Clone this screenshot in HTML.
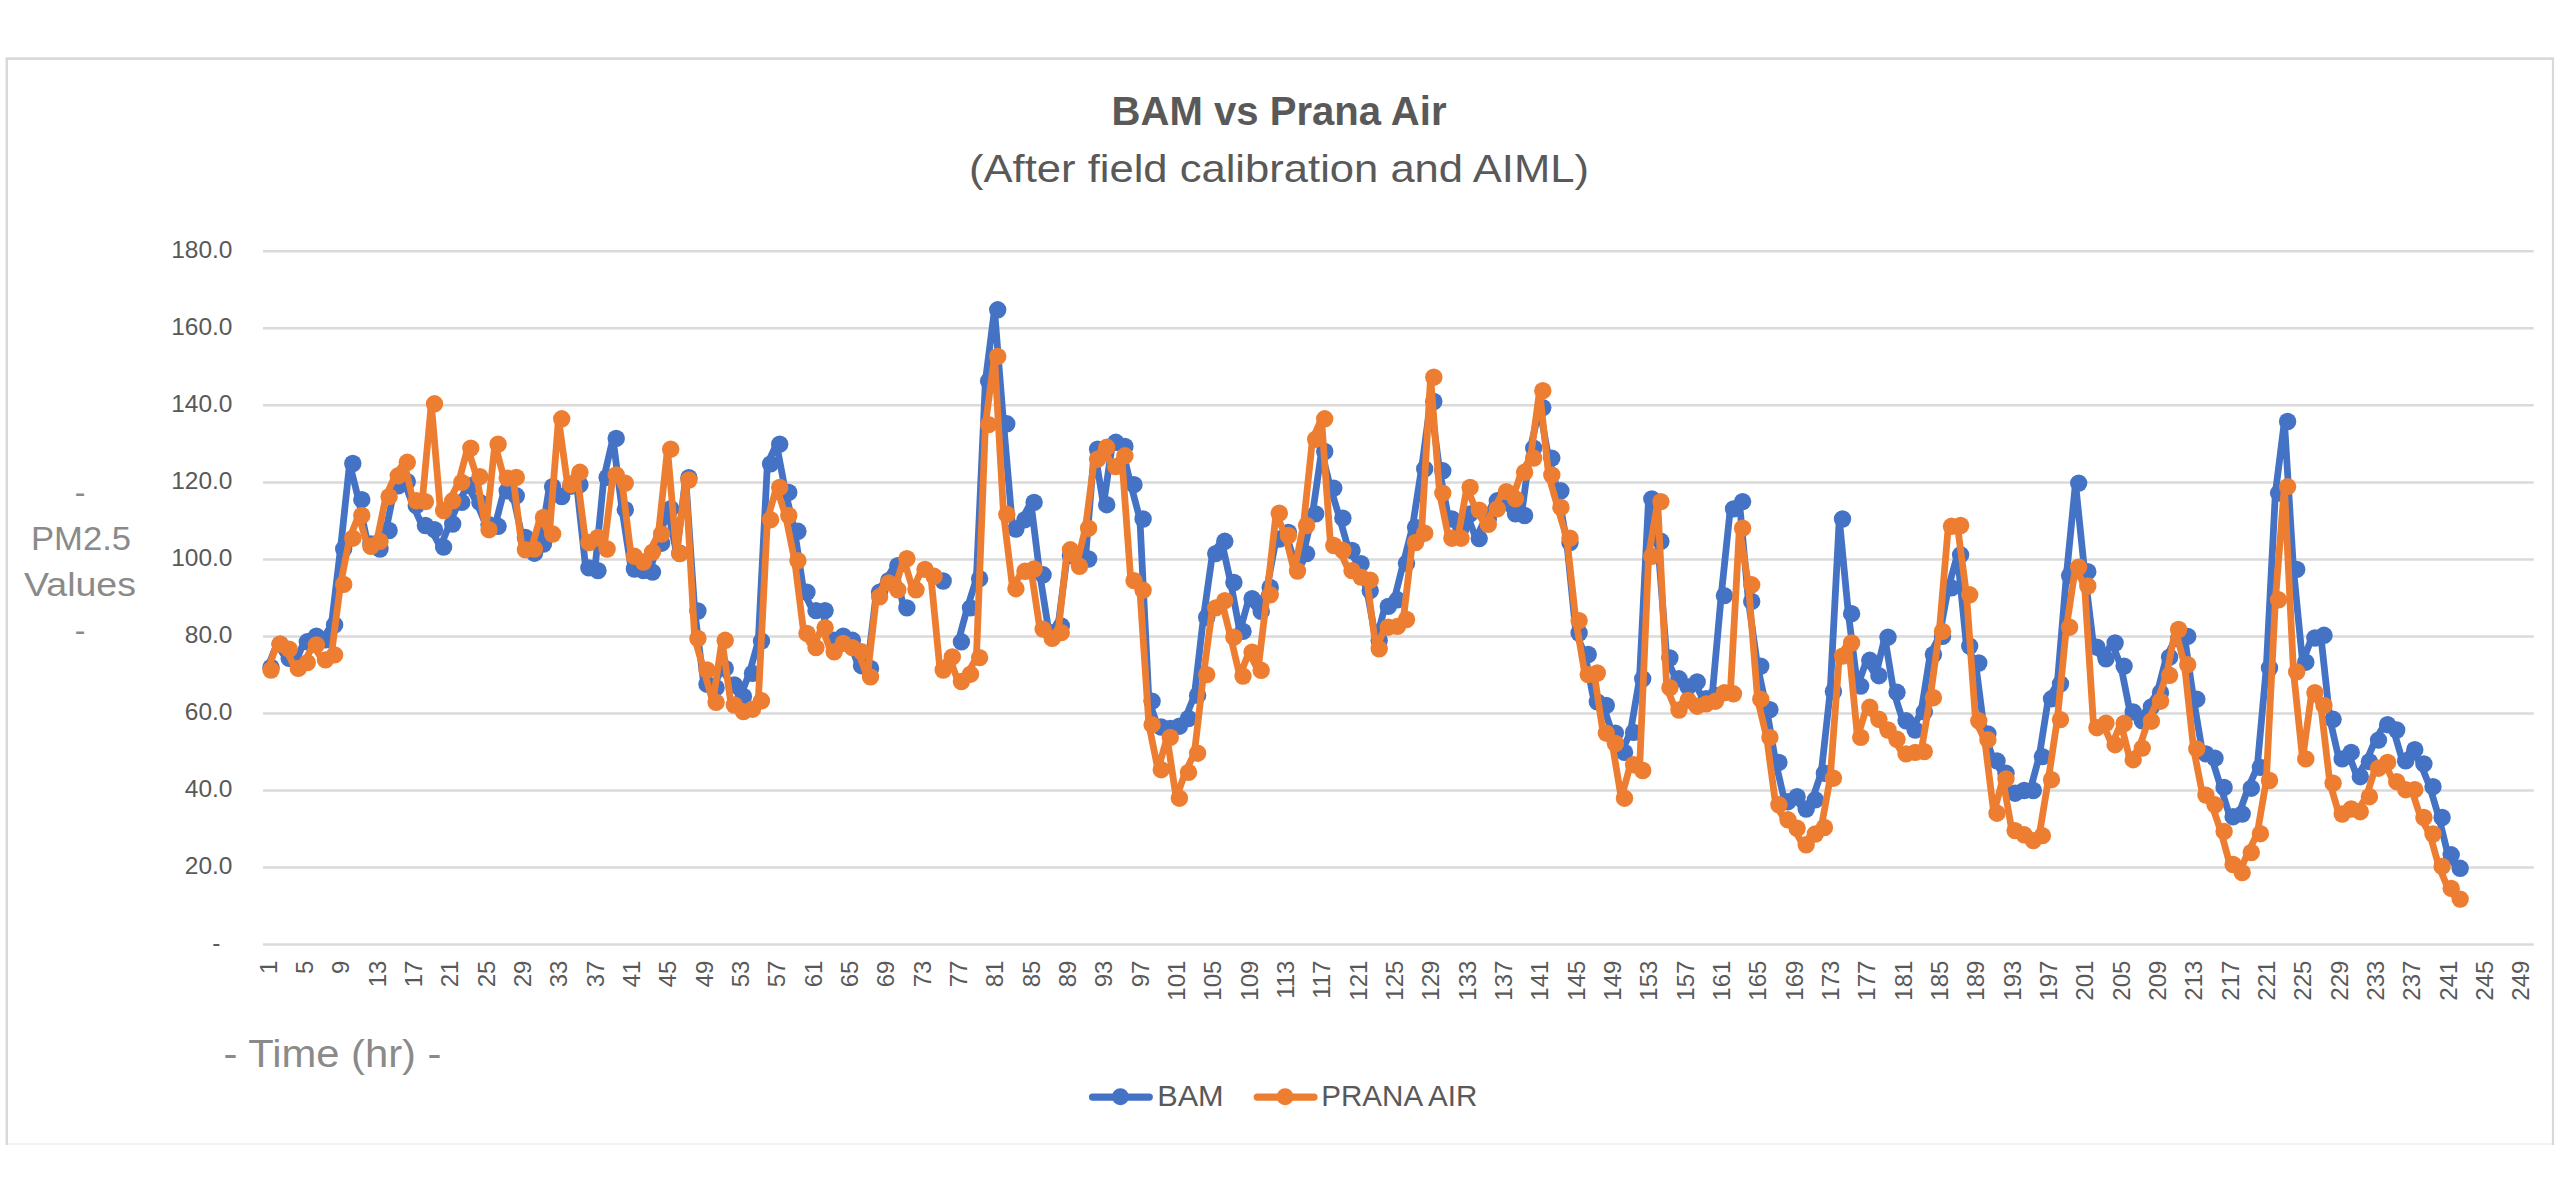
<!DOCTYPE html>
<html lang="en"><head><meta charset="utf-8"><title>BAM vs Prana Air</title>
<style>
html,body{margin:0;padding:0;background:#fff;}
body{width:2560px;height:1200px;overflow:hidden;}
svg{display:block;}
text{font-family:"Liberation Sans",sans-serif;}
.t{fill:#595959;}
.a{fill:#8a8a8a;}
</style></head><body>
<svg width="2560" height="1200" viewBox="0 0 2560 1200">
<rect x="0" y="0" width="2560" height="1200" fill="#fff"/>
<g fill="none" stroke="#d9d9d9">
<path d="M6.8 1145 V58.6" stroke-width="2.5"/>
<path d="M5.6 58.6 H2554.1" stroke-width="2.7"/>
<path d="M2553 58.6 V1145" stroke-width="2.2"/>
</g>
<path d="M8 1144 H2552" stroke="#f2f2f2" stroke-width="2" fill="none"/>
<g stroke="#dadada" stroke-width="2.5" fill="none">
<path d="M263 944.6 H2533.7"/>
<path d="M263 867.6 H2533.7"/>
<path d="M263 790.5 H2533.7"/>
<path d="M263 713.5 H2533.7"/>
<path d="M263 636.4 H2533.7"/>
<path d="M263 559.4 H2533.7"/>
<path d="M263 482.4 H2533.7"/>
<path d="M263 405.3 H2533.7"/>
<path d="M263 328.3 H2533.7"/>
<path d="M263 251.2 H2533.7"/>
</g>
<g class="t" font-size="24.5" text-anchor="end">
<text x="232.5" y="874.4">20.0</text>
<text x="232.5" y="797.3">40.0</text>
<text x="232.5" y="720.3">60.0</text>
<text x="232.5" y="643.2">80.0</text>
<text x="232.5" y="566.2">100.0</text>
<text x="232.5" y="489.2">120.0</text>
<text x="232.5" y="412.1">140.0</text>
<text x="232.5" y="335.1">160.0</text>
<text x="232.5" y="258.0">180.0</text>
<text x="220.5" y="951.0">-</text>
</g>
<g class="t" font-size="24" text-anchor="end">
<text transform="translate(268.0 960.6) rotate(-90)" x="0" y="8.6">1</text>
<text transform="translate(304.3 960.6) rotate(-90)" x="0" y="8.6">5</text>
<text transform="translate(340.7 960.6) rotate(-90)" x="0" y="8.6">9</text>
<text transform="translate(377.0 960.6) rotate(-90)" x="0" y="8.6">13</text>
<text transform="translate(413.3 960.6) rotate(-90)" x="0" y="8.6">17</text>
<text transform="translate(449.7 960.6) rotate(-90)" x="0" y="8.6">21</text>
<text transform="translate(486.0 960.6) rotate(-90)" x="0" y="8.6">25</text>
<text transform="translate(522.4 960.6) rotate(-90)" x="0" y="8.6">29</text>
<text transform="translate(558.7 960.6) rotate(-90)" x="0" y="8.6">33</text>
<text transform="translate(595.0 960.6) rotate(-90)" x="0" y="8.6">37</text>
<text transform="translate(631.4 960.6) rotate(-90)" x="0" y="8.6">41</text>
<text transform="translate(667.7 960.6) rotate(-90)" x="0" y="8.6">45</text>
<text transform="translate(704.0 960.6) rotate(-90)" x="0" y="8.6">49</text>
<text transform="translate(740.4 960.6) rotate(-90)" x="0" y="8.6">53</text>
<text transform="translate(776.7 960.6) rotate(-90)" x="0" y="8.6">57</text>
<text transform="translate(813.0 960.6) rotate(-90)" x="0" y="8.6">61</text>
<text transform="translate(849.4 960.6) rotate(-90)" x="0" y="8.6">65</text>
<text transform="translate(885.7 960.6) rotate(-90)" x="0" y="8.6">69</text>
<text transform="translate(922.0 960.6) rotate(-90)" x="0" y="8.6">73</text>
<text transform="translate(958.4 960.6) rotate(-90)" x="0" y="8.6">77</text>
<text transform="translate(994.7 960.6) rotate(-90)" x="0" y="8.6">81</text>
<text transform="translate(1031.1 960.6) rotate(-90)" x="0" y="8.6">85</text>
<text transform="translate(1067.4 960.6) rotate(-90)" x="0" y="8.6">89</text>
<text transform="translate(1103.7 960.6) rotate(-90)" x="0" y="8.6">93</text>
<text transform="translate(1140.1 960.6) rotate(-90)" x="0" y="8.6">97</text>
<text transform="translate(1176.4 960.6) rotate(-90)" x="0" y="8.6">101</text>
<text transform="translate(1212.7 960.6) rotate(-90)" x="0" y="8.6">105</text>
<text transform="translate(1249.1 960.6) rotate(-90)" x="0" y="8.6">109</text>
<text transform="translate(1285.4 960.6) rotate(-90)" x="0" y="8.6">113</text>
<text transform="translate(1321.7 960.6) rotate(-90)" x="0" y="8.6">117</text>
<text transform="translate(1358.1 960.6) rotate(-90)" x="0" y="8.6">121</text>
<text transform="translate(1394.4 960.6) rotate(-90)" x="0" y="8.6">125</text>
<text transform="translate(1430.8 960.6) rotate(-90)" x="0" y="8.6">129</text>
<text transform="translate(1467.1 960.6) rotate(-90)" x="0" y="8.6">133</text>
<text transform="translate(1503.4 960.6) rotate(-90)" x="0" y="8.6">137</text>
<text transform="translate(1539.8 960.6) rotate(-90)" x="0" y="8.6">141</text>
<text transform="translate(1576.1 960.6) rotate(-90)" x="0" y="8.6">145</text>
<text transform="translate(1612.4 960.6) rotate(-90)" x="0" y="8.6">149</text>
<text transform="translate(1648.8 960.6) rotate(-90)" x="0" y="8.6">153</text>
<text transform="translate(1685.1 960.6) rotate(-90)" x="0" y="8.6">157</text>
<text transform="translate(1721.4 960.6) rotate(-90)" x="0" y="8.6">161</text>
<text transform="translate(1757.8 960.6) rotate(-90)" x="0" y="8.6">165</text>
<text transform="translate(1794.1 960.6) rotate(-90)" x="0" y="8.6">169</text>
<text transform="translate(1830.4 960.6) rotate(-90)" x="0" y="8.6">173</text>
<text transform="translate(1866.8 960.6) rotate(-90)" x="0" y="8.6">177</text>
<text transform="translate(1903.1 960.6) rotate(-90)" x="0" y="8.6">181</text>
<text transform="translate(1939.5 960.6) rotate(-90)" x="0" y="8.6">185</text>
<text transform="translate(1975.8 960.6) rotate(-90)" x="0" y="8.6">189</text>
<text transform="translate(2012.1 960.6) rotate(-90)" x="0" y="8.6">193</text>
<text transform="translate(2048.5 960.6) rotate(-90)" x="0" y="8.6">197</text>
<text transform="translate(2084.8 960.6) rotate(-90)" x="0" y="8.6">201</text>
<text transform="translate(2121.1 960.6) rotate(-90)" x="0" y="8.6">205</text>
<text transform="translate(2157.5 960.6) rotate(-90)" x="0" y="8.6">209</text>
<text transform="translate(2193.8 960.6) rotate(-90)" x="0" y="8.6">213</text>
<text transform="translate(2230.1 960.6) rotate(-90)" x="0" y="8.6">217</text>
<text transform="translate(2266.5 960.6) rotate(-90)" x="0" y="8.6">221</text>
<text transform="translate(2302.8 960.6) rotate(-90)" x="0" y="8.6">225</text>
<text transform="translate(2339.2 960.6) rotate(-90)" x="0" y="8.6">229</text>
<text transform="translate(2375.5 960.6) rotate(-90)" x="0" y="8.6">233</text>
<text transform="translate(2411.8 960.6) rotate(-90)" x="0" y="8.6">237</text>
<text transform="translate(2448.2 960.6) rotate(-90)" x="0" y="8.6">241</text>
<text transform="translate(2484.5 960.6) rotate(-90)" x="0" y="8.6">245</text>
<text transform="translate(2520.8 960.6) rotate(-90)" x="0" y="8.6">249</text>
</g>
<text class="t" x="1279" y="124.5" font-size="40" font-weight="bold" text-anchor="middle" textLength="335" lengthAdjust="spacingAndGlyphs">BAM vs Prana Air</text>
<text class="t" x="1279" y="181.5" font-size="38.5" text-anchor="middle" textLength="620" lengthAdjust="spacingAndGlyphs">(After field calibration and AIML)</text>
<g class="a" text-anchor="middle">
<text x="80" y="503" font-size="32">-</text>
<text x="81" y="549.6" font-size="32.5" textLength="100" lengthAdjust="spacingAndGlyphs">PM2.5</text>
<text x="80" y="595.6" font-size="32.5" textLength="112" lengthAdjust="spacingAndGlyphs">Values</text>
<text x="80" y="641" font-size="32">-</text>
<text x="332.5" y="1067" font-size="38" textLength="218" lengthAdjust="spacingAndGlyphs">- Time (hr) -</text>
</g>
<polyline points="267.8,667.3 276.9,644.1 286.0,658.4 295.1,663.4 304.1,641.8 313.2,636.1 322.3,639.9 331.4,624.9 340.5,549.0 349.6,463.5 358.6,499.7 367.7,544.0 376.8,549.0 385.9,530.5 395.0,485.8 404.1,481.6 413.1,505.5 422.2,525.5 431.3,529.7 440.4,547.1 449.5,524.0 458.6,502.4 467.6,485.8 476.7,502.4 485.8,524.7 494.9,526.3 504.0,490.8 513.1,495.8 522.2,537.4 531.2,553.2 540.3,544.0 549.4,486.6 558.5,496.6 567.6,486.2 576.7,484.7 585.7,567.9 594.8,570.6 603.9,477.4 613.0,438.4 622.1,509.7 631.2,569.0 640.2,570.6 649.3,572.1 658.4,543.2 667.5,508.6 676.6,553.2 685.7,477.7 694.7,611.0 703.8,684.2 712.9,687.7 722.0,668.4 731.1,685.0 740.2,696.5 749.3,673.4 758.3,641.1 767.4,463.9 776.5,444.2 785.6,492.4 794.7,531.3 803.8,592.1 812.8,610.6 821.9,610.6 831.0,640.3 840.1,636.1 849.2,640.3 858.3,665.7 867.3,668.4 876.4,592.1 885.5,580.6 894.6,565.6 903.7,607.9" fill="none" stroke="#4472c4" stroke-width="6.8" stroke-linejoin="round" stroke-linecap="round"/>
<polyline points="940.0,581.0" fill="none" stroke="#4472c4" stroke-width="6.8" stroke-linejoin="round" stroke-linecap="round"/>
<polyline points="958.2,641.8 967.3,607.9 976.4,578.7 985.4,381.1 994.5,309.8 1003.6,423.8 1012.7,529.0 1021.8,519.7 1030.9,502.4 1039.9,574.8 1049.0,632.6 1058.1,626.0 1067.2,555.5 1076.3,563.3 1085.4,559.0 1094.4,449.2 1103.5,504.7 1112.6,442.3 1121.7,446.5 1130.8,484.7 1139.9,519.0 1148.9,701.2 1158.0,727.0 1167.1,728.5 1176.2,726.2 1185.3,718.5 1194.4,695.4 1203.5,617.2 1212.5,553.6 1221.6,541.3 1230.7,582.5 1239.8,631.4 1248.9,598.7 1258.0,611.4 1267.0,587.5 1276.1,539.0 1285.2,532.4 1294.3,560.6 1303.4,553.6 1312.5,513.9 1321.5,451.5 1330.6,488.1 1339.7,518.2 1348.8,550.5 1357.9,563.6 1367.0,590.6 1376.0,640.3 1385.1,606.4 1394.2,599.8 1403.3,563.3 1412.4,527.4 1421.5,468.9 1430.6,401.5 1439.6,470.8 1448.7,519.0 1457.8,528.6 1466.9,513.9 1476.0,538.6 1485.1,519.0 1494.1,500.8 1503.2,501.6 1512.3,513.9 1521.4,515.5 1530.5,448.1 1539.6,407.6 1548.6,458.1 1557.7,490.8 1566.8,542.5 1575.9,633.0 1585.0,654.5 1594.1,701.9 1603.1,705.4 1612.2,733.1 1621.3,752.4 1630.4,732.4 1639.5,678.8 1648.6,498.9 1657.7,541.3 1666.7,658.0 1675.8,678.8 1684.9,686.9 1694.0,681.9 1703.1,698.8 1712.2,695.4 1721.2,595.6 1730.3,508.9 1739.4,501.6 1748.5,601.4 1757.6,666.1 1766.7,709.6 1775.7,762.4 1784.8,801.7 1793.9,796.7 1803.0,809.0 1812.1,799.8 1821.2,773.2 1830.2,691.5 1839.3,519.0 1848.4,613.7 1857.5,686.1 1866.6,660.3 1875.7,675.7 1884.8,637.2 1893.8,692.3 1902.9,720.8 1912.0,730.0 1921.1,711.9 1930.2,654.5 1939.3,636.4 1948.3,587.9 1957.4,554.8 1966.5,646.1 1975.6,663.0 1984.7,733.9 1993.8,760.9 2002.8,773.2 2011.9,793.2 2021.0,790.5 2030.1,790.5 2039.2,756.6 2048.3,698.8 2057.3,683.8 2066.4,575.6 2075.5,483.1 2084.6,571.7 2093.7,647.2 2102.8,658.8 2111.9,643.0 2120.9,666.1 2130.0,711.9 2139.1,720.8 2148.2,706.9 2157.3,692.7 2166.4,657.2 2175.4,638.8 2184.5,636.4 2193.6,699.2 2202.7,753.9 2211.8,758.2 2220.9,787.4 2229.9,816.7 2239.0,814.0 2248.1,788.2 2257.2,767.4 2266.3,668.0 2275.4,493.1 2284.4,421.5 2293.5,569.4 2302.6,662.2 2311.7,638.0 2320.8,635.3 2329.9,719.3 2339.0,758.9 2348.0,752.4 2357.1,776.7 2366.2,761.6 2375.3,740.1 2384.4,724.7 2393.5,730.0 2402.5,760.9 2411.6,749.7 2420.7,763.9 2429.8,786.7 2438.9,817.5 2448.0,854.8 2457.0,868.3" fill="none" stroke="#4472c4" stroke-width="6.8" stroke-linejoin="round" stroke-linecap="round"/>
<g fill="#4472c4">
<circle cx="271.0" cy="667.3" r="8.7"/>
<circle cx="280.1" cy="644.1" r="8.7"/>
<circle cx="289.2" cy="658.4" r="8.7"/>
<circle cx="298.3" cy="663.4" r="8.7"/>
<circle cx="307.3" cy="641.8" r="8.7"/>
<circle cx="316.4" cy="636.1" r="8.7"/>
<circle cx="325.5" cy="639.9" r="8.7"/>
<circle cx="334.6" cy="624.9" r="8.7"/>
<circle cx="343.7" cy="549.0" r="8.7"/>
<circle cx="352.8" cy="463.5" r="8.7"/>
<circle cx="361.8" cy="499.7" r="8.7"/>
<circle cx="370.9" cy="544.0" r="8.7"/>
<circle cx="380.0" cy="549.0" r="8.7"/>
<circle cx="389.1" cy="530.5" r="8.7"/>
<circle cx="398.2" cy="485.8" r="8.7"/>
<circle cx="407.3" cy="481.6" r="8.7"/>
<circle cx="416.3" cy="505.5" r="8.7"/>
<circle cx="425.4" cy="525.5" r="8.7"/>
<circle cx="434.5" cy="529.7" r="8.7"/>
<circle cx="443.6" cy="547.1" r="8.7"/>
<circle cx="452.7" cy="524.0" r="8.7"/>
<circle cx="461.8" cy="502.4" r="8.7"/>
<circle cx="470.8" cy="485.8" r="8.7"/>
<circle cx="479.9" cy="502.4" r="8.7"/>
<circle cx="489.0" cy="524.7" r="8.7"/>
<circle cx="498.1" cy="526.3" r="8.7"/>
<circle cx="507.2" cy="490.8" r="8.7"/>
<circle cx="516.3" cy="495.8" r="8.7"/>
<circle cx="525.4" cy="537.4" r="8.7"/>
<circle cx="534.4" cy="553.2" r="8.7"/>
<circle cx="543.5" cy="544.0" r="8.7"/>
<circle cx="552.6" cy="486.6" r="8.7"/>
<circle cx="561.7" cy="496.6" r="8.7"/>
<circle cx="570.8" cy="486.2" r="8.7"/>
<circle cx="579.9" cy="484.7" r="8.7"/>
<circle cx="588.9" cy="567.9" r="8.7"/>
<circle cx="598.0" cy="570.6" r="8.7"/>
<circle cx="607.1" cy="477.4" r="8.7"/>
<circle cx="616.2" cy="438.4" r="8.7"/>
<circle cx="625.3" cy="509.7" r="8.7"/>
<circle cx="634.4" cy="569.0" r="8.7"/>
<circle cx="643.4" cy="570.6" r="8.7"/>
<circle cx="652.5" cy="572.1" r="8.7"/>
<circle cx="661.6" cy="543.2" r="8.7"/>
<circle cx="670.7" cy="508.6" r="8.7"/>
<circle cx="679.8" cy="553.2" r="8.7"/>
<circle cx="688.9" cy="477.7" r="8.7"/>
<circle cx="697.9" cy="611.0" r="8.7"/>
<circle cx="707.0" cy="684.2" r="8.7"/>
<circle cx="716.1" cy="687.7" r="8.7"/>
<circle cx="725.2" cy="668.4" r="8.7"/>
<circle cx="734.3" cy="685.0" r="8.7"/>
<circle cx="743.4" cy="696.5" r="8.7"/>
<circle cx="752.5" cy="673.4" r="8.7"/>
<circle cx="761.5" cy="641.1" r="8.7"/>
<circle cx="770.6" cy="463.9" r="8.7"/>
<circle cx="779.7" cy="444.2" r="8.7"/>
<circle cx="788.8" cy="492.4" r="8.7"/>
<circle cx="797.9" cy="531.3" r="8.7"/>
<circle cx="807.0" cy="592.1" r="8.7"/>
<circle cx="816.0" cy="610.6" r="8.7"/>
<circle cx="825.1" cy="610.6" r="8.7"/>
<circle cx="834.2" cy="640.3" r="8.7"/>
<circle cx="843.3" cy="636.1" r="8.7"/>
<circle cx="852.4" cy="640.3" r="8.7"/>
<circle cx="861.5" cy="665.7" r="8.7"/>
<circle cx="870.5" cy="668.4" r="8.7"/>
<circle cx="879.6" cy="592.1" r="8.7"/>
<circle cx="888.7" cy="580.6" r="8.7"/>
<circle cx="897.8" cy="565.6" r="8.7"/>
<circle cx="906.9" cy="607.9" r="8.7"/>
<circle cx="943.2" cy="581.0" r="8.7"/>
<circle cx="961.4" cy="641.8" r="8.7"/>
<circle cx="970.5" cy="607.9" r="8.7"/>
<circle cx="979.6" cy="578.7" r="8.7"/>
<circle cx="988.6" cy="381.1" r="8.7"/>
<circle cx="997.7" cy="309.8" r="8.7"/>
<circle cx="1006.8" cy="423.8" r="8.7"/>
<circle cx="1015.9" cy="529.0" r="8.7"/>
<circle cx="1025.0" cy="519.7" r="8.7"/>
<circle cx="1034.1" cy="502.4" r="8.7"/>
<circle cx="1043.1" cy="574.8" r="8.7"/>
<circle cx="1052.2" cy="632.6" r="8.7"/>
<circle cx="1061.3" cy="626.0" r="8.7"/>
<circle cx="1070.4" cy="555.5" r="8.7"/>
<circle cx="1079.5" cy="563.3" r="8.7"/>
<circle cx="1088.6" cy="559.0" r="8.7"/>
<circle cx="1097.6" cy="449.2" r="8.7"/>
<circle cx="1106.7" cy="504.7" r="8.7"/>
<circle cx="1115.8" cy="442.3" r="8.7"/>
<circle cx="1124.9" cy="446.5" r="8.7"/>
<circle cx="1134.0" cy="484.7" r="8.7"/>
<circle cx="1143.1" cy="519.0" r="8.7"/>
<circle cx="1152.1" cy="701.2" r="8.7"/>
<circle cx="1161.2" cy="727.0" r="8.7"/>
<circle cx="1170.3" cy="728.5" r="8.7"/>
<circle cx="1179.4" cy="726.2" r="8.7"/>
<circle cx="1188.5" cy="718.5" r="8.7"/>
<circle cx="1197.6" cy="695.4" r="8.7"/>
<circle cx="1206.7" cy="617.2" r="8.7"/>
<circle cx="1215.7" cy="553.6" r="8.7"/>
<circle cx="1224.8" cy="541.3" r="8.7"/>
<circle cx="1233.9" cy="582.5" r="8.7"/>
<circle cx="1243.0" cy="631.4" r="8.7"/>
<circle cx="1252.1" cy="598.7" r="8.7"/>
<circle cx="1261.2" cy="611.4" r="8.7"/>
<circle cx="1270.2" cy="587.5" r="8.7"/>
<circle cx="1279.3" cy="539.0" r="8.7"/>
<circle cx="1288.4" cy="532.4" r="8.7"/>
<circle cx="1297.5" cy="560.6" r="8.7"/>
<circle cx="1306.6" cy="553.6" r="8.7"/>
<circle cx="1315.7" cy="513.9" r="8.7"/>
<circle cx="1324.7" cy="451.5" r="8.7"/>
<circle cx="1333.8" cy="488.1" r="8.7"/>
<circle cx="1342.9" cy="518.2" r="8.7"/>
<circle cx="1352.0" cy="550.5" r="8.7"/>
<circle cx="1361.1" cy="563.6" r="8.7"/>
<circle cx="1370.2" cy="590.6" r="8.7"/>
<circle cx="1379.2" cy="640.3" r="8.7"/>
<circle cx="1388.3" cy="606.4" r="8.7"/>
<circle cx="1397.4" cy="599.8" r="8.7"/>
<circle cx="1406.5" cy="563.3" r="8.7"/>
<circle cx="1415.6" cy="527.4" r="8.7"/>
<circle cx="1424.7" cy="468.9" r="8.7"/>
<circle cx="1433.8" cy="401.5" r="8.7"/>
<circle cx="1442.8" cy="470.8" r="8.7"/>
<circle cx="1451.9" cy="519.0" r="8.7"/>
<circle cx="1461.0" cy="528.6" r="8.7"/>
<circle cx="1470.1" cy="513.9" r="8.7"/>
<circle cx="1479.2" cy="538.6" r="8.7"/>
<circle cx="1488.3" cy="519.0" r="8.7"/>
<circle cx="1497.3" cy="500.8" r="8.7"/>
<circle cx="1506.4" cy="501.6" r="8.7"/>
<circle cx="1515.5" cy="513.9" r="8.7"/>
<circle cx="1524.6" cy="515.5" r="8.7"/>
<circle cx="1533.7" cy="448.1" r="8.7"/>
<circle cx="1542.8" cy="407.6" r="8.7"/>
<circle cx="1551.8" cy="458.1" r="8.7"/>
<circle cx="1560.9" cy="490.8" r="8.7"/>
<circle cx="1570.0" cy="542.5" r="8.7"/>
<circle cx="1579.1" cy="633.0" r="8.7"/>
<circle cx="1588.2" cy="654.5" r="8.7"/>
<circle cx="1597.3" cy="701.9" r="8.7"/>
<circle cx="1606.3" cy="705.4" r="8.7"/>
<circle cx="1615.4" cy="733.1" r="8.7"/>
<circle cx="1624.5" cy="752.4" r="8.7"/>
<circle cx="1633.6" cy="732.4" r="8.7"/>
<circle cx="1642.7" cy="678.8" r="8.7"/>
<circle cx="1651.8" cy="498.9" r="8.7"/>
<circle cx="1660.9" cy="541.3" r="8.7"/>
<circle cx="1669.9" cy="658.0" r="8.7"/>
<circle cx="1679.0" cy="678.8" r="8.7"/>
<circle cx="1688.1" cy="686.9" r="8.7"/>
<circle cx="1697.2" cy="681.9" r="8.7"/>
<circle cx="1706.3" cy="698.8" r="8.7"/>
<circle cx="1715.4" cy="695.4" r="8.7"/>
<circle cx="1724.4" cy="595.6" r="8.7"/>
<circle cx="1733.5" cy="508.9" r="8.7"/>
<circle cx="1742.6" cy="501.6" r="8.7"/>
<circle cx="1751.7" cy="601.4" r="8.7"/>
<circle cx="1760.8" cy="666.1" r="8.7"/>
<circle cx="1769.9" cy="709.6" r="8.7"/>
<circle cx="1778.9" cy="762.4" r="8.7"/>
<circle cx="1788.0" cy="801.7" r="8.7"/>
<circle cx="1797.1" cy="796.7" r="8.7"/>
<circle cx="1806.2" cy="809.0" r="8.7"/>
<circle cx="1815.3" cy="799.8" r="8.7"/>
<circle cx="1824.4" cy="773.2" r="8.7"/>
<circle cx="1833.4" cy="691.5" r="8.7"/>
<circle cx="1842.5" cy="519.0" r="8.7"/>
<circle cx="1851.6" cy="613.7" r="8.7"/>
<circle cx="1860.7" cy="686.1" r="8.7"/>
<circle cx="1869.8" cy="660.3" r="8.7"/>
<circle cx="1878.9" cy="675.7" r="8.7"/>
<circle cx="1888.0" cy="637.2" r="8.7"/>
<circle cx="1897.0" cy="692.3" r="8.7"/>
<circle cx="1906.1" cy="720.8" r="8.7"/>
<circle cx="1915.2" cy="730.0" r="8.7"/>
<circle cx="1924.3" cy="711.9" r="8.7"/>
<circle cx="1933.4" cy="654.5" r="8.7"/>
<circle cx="1942.5" cy="636.4" r="8.7"/>
<circle cx="1951.5" cy="587.9" r="8.7"/>
<circle cx="1960.6" cy="554.8" r="8.7"/>
<circle cx="1969.7" cy="646.1" r="8.7"/>
<circle cx="1978.8" cy="663.0" r="8.7"/>
<circle cx="1987.9" cy="733.9" r="8.7"/>
<circle cx="1997.0" cy="760.9" r="8.7"/>
<circle cx="2006.0" cy="773.2" r="8.7"/>
<circle cx="2015.1" cy="793.2" r="8.7"/>
<circle cx="2024.2" cy="790.5" r="8.7"/>
<circle cx="2033.3" cy="790.5" r="8.7"/>
<circle cx="2042.4" cy="756.6" r="8.7"/>
<circle cx="2051.5" cy="698.8" r="8.7"/>
<circle cx="2060.5" cy="683.8" r="8.7"/>
<circle cx="2069.6" cy="575.6" r="8.7"/>
<circle cx="2078.7" cy="483.1" r="8.7"/>
<circle cx="2087.8" cy="571.7" r="8.7"/>
<circle cx="2096.9" cy="647.2" r="8.7"/>
<circle cx="2106.0" cy="658.8" r="8.7"/>
<circle cx="2115.1" cy="643.0" r="8.7"/>
<circle cx="2124.1" cy="666.1" r="8.7"/>
<circle cx="2133.2" cy="711.9" r="8.7"/>
<circle cx="2142.3" cy="720.8" r="8.7"/>
<circle cx="2151.4" cy="706.9" r="8.7"/>
<circle cx="2160.5" cy="692.7" r="8.7"/>
<circle cx="2169.6" cy="657.2" r="8.7"/>
<circle cx="2178.6" cy="638.8" r="8.7"/>
<circle cx="2187.7" cy="636.4" r="8.7"/>
<circle cx="2196.8" cy="699.2" r="8.7"/>
<circle cx="2205.9" cy="753.9" r="8.7"/>
<circle cx="2215.0" cy="758.2" r="8.7"/>
<circle cx="2224.1" cy="787.4" r="8.7"/>
<circle cx="2233.1" cy="816.7" r="8.7"/>
<circle cx="2242.2" cy="814.0" r="8.7"/>
<circle cx="2251.3" cy="788.2" r="8.7"/>
<circle cx="2260.4" cy="767.4" r="8.7"/>
<circle cx="2269.5" cy="668.0" r="8.7"/>
<circle cx="2278.6" cy="493.1" r="8.7"/>
<circle cx="2287.6" cy="421.5" r="8.7"/>
<circle cx="2296.7" cy="569.4" r="8.7"/>
<circle cx="2305.8" cy="662.2" r="8.7"/>
<circle cx="2314.9" cy="638.0" r="8.7"/>
<circle cx="2324.0" cy="635.3" r="8.7"/>
<circle cx="2333.1" cy="719.3" r="8.7"/>
<circle cx="2342.2" cy="758.9" r="8.7"/>
<circle cx="2351.2" cy="752.4" r="8.7"/>
<circle cx="2360.3" cy="776.7" r="8.7"/>
<circle cx="2369.4" cy="761.6" r="8.7"/>
<circle cx="2378.5" cy="740.1" r="8.7"/>
<circle cx="2387.6" cy="724.7" r="8.7"/>
<circle cx="2396.7" cy="730.0" r="8.7"/>
<circle cx="2405.7" cy="760.9" r="8.7"/>
<circle cx="2414.8" cy="749.7" r="8.7"/>
<circle cx="2423.9" cy="763.9" r="8.7"/>
<circle cx="2433.0" cy="786.7" r="8.7"/>
<circle cx="2442.1" cy="817.5" r="8.7"/>
<circle cx="2451.2" cy="854.8" r="8.7"/>
<circle cx="2460.2" cy="868.3" r="8.7"/>
</g>
<polyline points="267.8,670.0 276.9,644.1 286.0,649.2 295.1,668.4 304.1,662.6 313.2,644.9 322.3,659.9 331.4,654.9 340.5,584.4 349.6,538.2 358.6,515.5 367.7,546.3 376.8,541.3 385.9,496.6 395.0,475.8 404.1,462.3 413.1,500.8 422.2,501.6 431.3,403.8 440.4,510.5 449.5,500.8 458.6,482.4 467.6,448.1 476.7,476.6 485.8,529.7 494.9,444.2 504.0,478.1 513.1,477.4 522.2,549.8 531.2,549.0 540.3,517.4 549.4,534.0 558.5,418.8 567.6,484.7 576.7,472.3 585.7,542.5 594.8,537.4 603.9,549.0 613.0,475.0 622.1,483.1 631.2,556.3 640.2,562.1 649.3,552.1 658.4,534.0 667.5,449.2 676.6,553.6 685.7,480.0 694.7,638.4 703.8,670.0 712.9,702.3 722.0,640.3 731.1,705.0 740.2,711.6 749.3,709.2 758.3,700.8 767.4,519.7 776.5,487.4 785.6,515.5 794.7,560.6 803.8,633.4 812.8,647.6 821.9,627.6 831.0,651.8 840.1,643.4 849.2,647.6 858.3,651.8 867.3,676.9 876.4,596.8 885.5,582.9 894.6,589.8 903.7,558.6 912.8,589.8 921.8,569.4 930.9,576.3 940.0,670.0 949.1,656.9 958.2,681.5 967.3,674.2 976.4,657.6 985.4,424.6 994.5,356.4 1003.6,514.3 1012.7,588.7 1021.8,571.3 1030.9,569.0 1039.9,629.1 1049.0,638.4 1058.1,632.6 1067.2,549.8 1076.3,566.3 1085.4,528.2 1094.4,459.2 1103.5,447.3 1112.6,466.6 1121.7,455.8 1130.8,580.6 1139.9,590.2 1148.9,724.7 1158.0,769.7 1167.1,737.4 1176.2,798.2 1185.3,772.4 1194.4,753.2 1203.5,674.6 1212.5,607.9 1221.6,600.6 1230.7,637.2 1239.8,676.1 1248.9,652.2 1258.0,670.3 1267.0,594.8 1276.1,513.2 1285.2,535.5 1294.3,571.0 1303.4,525.5 1312.5,439.2 1321.5,418.8 1330.6,545.5 1339.7,550.5 1348.8,570.6 1357.9,577.1 1367.0,580.2 1376.0,648.8 1385.1,627.2 1394.2,626.4 1403.3,619.5 1412.4,542.5 1421.5,533.2 1430.6,377.2 1439.6,493.1 1448.7,538.2 1457.8,538.2 1466.9,487.4 1476.0,510.1 1485.1,524.3 1494.1,508.9 1503.2,491.6 1512.3,498.9 1521.4,472.3 1530.5,458.1 1539.6,390.7 1548.6,475.0 1557.7,507.4 1566.8,538.2 1575.9,620.6 1585.0,674.6 1594.1,673.0 1603.1,733.1 1612.2,743.5 1621.3,798.2 1630.4,764.7 1639.5,770.5 1648.6,556.3 1657.7,501.6 1666.7,687.7 1675.8,710.0 1684.9,700.4 1694.0,706.2 1703.1,703.9 1712.2,701.2 1721.2,692.7 1730.3,693.8 1739.4,528.2 1748.5,584.8 1757.6,699.2 1766.7,737.4 1775.7,804.8 1784.8,819.8 1793.9,828.3 1803.0,844.8 1812.1,834.0 1821.2,827.5 1830.2,778.2 1839.3,656.1 1848.4,643.0 1857.5,737.4 1866.6,707.3 1875.7,719.3 1884.8,730.0 1893.8,739.3 1902.9,753.9 1912.0,752.4 1921.1,751.6 1930.2,697.7 1939.3,631.4 1948.3,526.3 1957.4,525.5 1966.5,594.8 1975.6,720.8 1984.7,739.7 1993.8,813.2 2002.8,779.0 2011.9,830.6 2021.0,834.8 2030.1,840.6 2039.2,835.6 2048.3,779.7 2057.3,719.6 2066.4,627.2 2075.5,567.1 2084.6,586.0 2093.7,727.7 2102.8,723.1 2111.9,744.7 2120.9,723.5 2130.0,759.7 2139.1,748.1 2148.2,721.2 2157.3,701.2 2166.4,675.3 2175.4,629.5 2184.5,664.6 2193.6,748.9 2202.7,795.1 2211.8,804.8 2220.9,831.4 2229.9,864.5 2239.0,872.6 2248.1,852.5 2257.2,833.7 2266.3,780.5 2275.4,599.8 2284.4,486.6 2293.5,671.9 2302.6,758.9 2311.7,692.7 2320.8,705.4 2329.9,783.2 2339.0,814.0 2348.0,809.0 2357.1,811.7 2366.2,796.7 2375.3,768.2 2384.4,762.4 2393.5,781.7 2402.5,789.7 2411.6,789.7 2420.7,817.5 2429.8,834.0 2438.9,866.4 2448.0,888.4 2457.0,899.1" fill="none" stroke="#ed7d31" stroke-width="6.8" stroke-linejoin="round" stroke-linecap="round"/>
<g fill="#ed7d31">
<circle cx="271.0" cy="670.0" r="8.7"/>
<circle cx="280.1" cy="644.1" r="8.7"/>
<circle cx="289.2" cy="649.2" r="8.7"/>
<circle cx="298.3" cy="668.4" r="8.7"/>
<circle cx="307.3" cy="662.6" r="8.7"/>
<circle cx="316.4" cy="644.9" r="8.7"/>
<circle cx="325.5" cy="659.9" r="8.7"/>
<circle cx="334.6" cy="654.9" r="8.7"/>
<circle cx="343.7" cy="584.4" r="8.7"/>
<circle cx="352.8" cy="538.2" r="8.7"/>
<circle cx="361.8" cy="515.5" r="8.7"/>
<circle cx="370.9" cy="546.3" r="8.7"/>
<circle cx="380.0" cy="541.3" r="8.7"/>
<circle cx="389.1" cy="496.6" r="8.7"/>
<circle cx="398.2" cy="475.8" r="8.7"/>
<circle cx="407.3" cy="462.3" r="8.7"/>
<circle cx="416.3" cy="500.8" r="8.7"/>
<circle cx="425.4" cy="501.6" r="8.7"/>
<circle cx="434.5" cy="403.8" r="8.7"/>
<circle cx="443.6" cy="510.5" r="8.7"/>
<circle cx="452.7" cy="500.8" r="8.7"/>
<circle cx="461.8" cy="482.4" r="8.7"/>
<circle cx="470.8" cy="448.1" r="8.7"/>
<circle cx="479.9" cy="476.6" r="8.7"/>
<circle cx="489.0" cy="529.7" r="8.7"/>
<circle cx="498.1" cy="444.2" r="8.7"/>
<circle cx="507.2" cy="478.1" r="8.7"/>
<circle cx="516.3" cy="477.4" r="8.7"/>
<circle cx="525.4" cy="549.8" r="8.7"/>
<circle cx="534.4" cy="549.0" r="8.7"/>
<circle cx="543.5" cy="517.4" r="8.7"/>
<circle cx="552.6" cy="534.0" r="8.7"/>
<circle cx="561.7" cy="418.8" r="8.7"/>
<circle cx="570.8" cy="484.7" r="8.7"/>
<circle cx="579.9" cy="472.3" r="8.7"/>
<circle cx="588.9" cy="542.5" r="8.7"/>
<circle cx="598.0" cy="537.4" r="8.7"/>
<circle cx="607.1" cy="549.0" r="8.7"/>
<circle cx="616.2" cy="475.0" r="8.7"/>
<circle cx="625.3" cy="483.1" r="8.7"/>
<circle cx="634.4" cy="556.3" r="8.7"/>
<circle cx="643.4" cy="562.1" r="8.7"/>
<circle cx="652.5" cy="552.1" r="8.7"/>
<circle cx="661.6" cy="534.0" r="8.7"/>
<circle cx="670.7" cy="449.2" r="8.7"/>
<circle cx="679.8" cy="553.6" r="8.7"/>
<circle cx="688.9" cy="480.0" r="8.7"/>
<circle cx="697.9" cy="638.4" r="8.7"/>
<circle cx="707.0" cy="670.0" r="8.7"/>
<circle cx="716.1" cy="702.3" r="8.7"/>
<circle cx="725.2" cy="640.3" r="8.7"/>
<circle cx="734.3" cy="705.0" r="8.7"/>
<circle cx="743.4" cy="711.6" r="8.7"/>
<circle cx="752.5" cy="709.2" r="8.7"/>
<circle cx="761.5" cy="700.8" r="8.7"/>
<circle cx="770.6" cy="519.7" r="8.7"/>
<circle cx="779.7" cy="487.4" r="8.7"/>
<circle cx="788.8" cy="515.5" r="8.7"/>
<circle cx="797.9" cy="560.6" r="8.7"/>
<circle cx="807.0" cy="633.4" r="8.7"/>
<circle cx="816.0" cy="647.6" r="8.7"/>
<circle cx="825.1" cy="627.6" r="8.7"/>
<circle cx="834.2" cy="651.8" r="8.7"/>
<circle cx="843.3" cy="643.4" r="8.7"/>
<circle cx="852.4" cy="647.6" r="8.7"/>
<circle cx="861.5" cy="651.8" r="8.7"/>
<circle cx="870.5" cy="676.9" r="8.7"/>
<circle cx="879.6" cy="596.8" r="8.7"/>
<circle cx="888.7" cy="582.9" r="8.7"/>
<circle cx="897.8" cy="589.8" r="8.7"/>
<circle cx="906.9" cy="558.6" r="8.7"/>
<circle cx="916.0" cy="589.8" r="8.7"/>
<circle cx="925.0" cy="569.4" r="8.7"/>
<circle cx="934.1" cy="576.3" r="8.7"/>
<circle cx="943.2" cy="670.0" r="8.7"/>
<circle cx="952.3" cy="656.9" r="8.7"/>
<circle cx="961.4" cy="681.5" r="8.7"/>
<circle cx="970.5" cy="674.2" r="8.7"/>
<circle cx="979.6" cy="657.6" r="8.7"/>
<circle cx="988.6" cy="424.6" r="8.7"/>
<circle cx="997.7" cy="356.4" r="8.7"/>
<circle cx="1006.8" cy="514.3" r="8.7"/>
<circle cx="1015.9" cy="588.7" r="8.7"/>
<circle cx="1025.0" cy="571.3" r="8.7"/>
<circle cx="1034.1" cy="569.0" r="8.7"/>
<circle cx="1043.1" cy="629.1" r="8.7"/>
<circle cx="1052.2" cy="638.4" r="8.7"/>
<circle cx="1061.3" cy="632.6" r="8.7"/>
<circle cx="1070.4" cy="549.8" r="8.7"/>
<circle cx="1079.5" cy="566.3" r="8.7"/>
<circle cx="1088.6" cy="528.2" r="8.7"/>
<circle cx="1097.6" cy="459.2" r="8.7"/>
<circle cx="1106.7" cy="447.3" r="8.7"/>
<circle cx="1115.8" cy="466.6" r="8.7"/>
<circle cx="1124.9" cy="455.8" r="8.7"/>
<circle cx="1134.0" cy="580.6" r="8.7"/>
<circle cx="1143.1" cy="590.2" r="8.7"/>
<circle cx="1152.1" cy="724.7" r="8.7"/>
<circle cx="1161.2" cy="769.7" r="8.7"/>
<circle cx="1170.3" cy="737.4" r="8.7"/>
<circle cx="1179.4" cy="798.2" r="8.7"/>
<circle cx="1188.5" cy="772.4" r="8.7"/>
<circle cx="1197.6" cy="753.2" r="8.7"/>
<circle cx="1206.7" cy="674.6" r="8.7"/>
<circle cx="1215.7" cy="607.9" r="8.7"/>
<circle cx="1224.8" cy="600.6" r="8.7"/>
<circle cx="1233.9" cy="637.2" r="8.7"/>
<circle cx="1243.0" cy="676.1" r="8.7"/>
<circle cx="1252.1" cy="652.2" r="8.7"/>
<circle cx="1261.2" cy="670.3" r="8.7"/>
<circle cx="1270.2" cy="594.8" r="8.7"/>
<circle cx="1279.3" cy="513.2" r="8.7"/>
<circle cx="1288.4" cy="535.5" r="8.7"/>
<circle cx="1297.5" cy="571.0" r="8.7"/>
<circle cx="1306.6" cy="525.5" r="8.7"/>
<circle cx="1315.7" cy="439.2" r="8.7"/>
<circle cx="1324.7" cy="418.8" r="8.7"/>
<circle cx="1333.8" cy="545.5" r="8.7"/>
<circle cx="1342.9" cy="550.5" r="8.7"/>
<circle cx="1352.0" cy="570.6" r="8.7"/>
<circle cx="1361.1" cy="577.1" r="8.7"/>
<circle cx="1370.2" cy="580.2" r="8.7"/>
<circle cx="1379.2" cy="648.8" r="8.7"/>
<circle cx="1388.3" cy="627.2" r="8.7"/>
<circle cx="1397.4" cy="626.4" r="8.7"/>
<circle cx="1406.5" cy="619.5" r="8.7"/>
<circle cx="1415.6" cy="542.5" r="8.7"/>
<circle cx="1424.7" cy="533.2" r="8.7"/>
<circle cx="1433.8" cy="377.2" r="8.7"/>
<circle cx="1442.8" cy="493.1" r="8.7"/>
<circle cx="1451.9" cy="538.2" r="8.7"/>
<circle cx="1461.0" cy="538.2" r="8.7"/>
<circle cx="1470.1" cy="487.4" r="8.7"/>
<circle cx="1479.2" cy="510.1" r="8.7"/>
<circle cx="1488.3" cy="524.3" r="8.7"/>
<circle cx="1497.3" cy="508.9" r="8.7"/>
<circle cx="1506.4" cy="491.6" r="8.7"/>
<circle cx="1515.5" cy="498.9" r="8.7"/>
<circle cx="1524.6" cy="472.3" r="8.7"/>
<circle cx="1533.7" cy="458.1" r="8.7"/>
<circle cx="1542.8" cy="390.7" r="8.7"/>
<circle cx="1551.8" cy="475.0" r="8.7"/>
<circle cx="1560.9" cy="507.4" r="8.7"/>
<circle cx="1570.0" cy="538.2" r="8.7"/>
<circle cx="1579.1" cy="620.6" r="8.7"/>
<circle cx="1588.2" cy="674.6" r="8.7"/>
<circle cx="1597.3" cy="673.0" r="8.7"/>
<circle cx="1606.3" cy="733.1" r="8.7"/>
<circle cx="1615.4" cy="743.5" r="8.7"/>
<circle cx="1624.5" cy="798.2" r="8.7"/>
<circle cx="1633.6" cy="764.7" r="8.7"/>
<circle cx="1642.7" cy="770.5" r="8.7"/>
<circle cx="1651.8" cy="556.3" r="8.7"/>
<circle cx="1660.9" cy="501.6" r="8.7"/>
<circle cx="1669.9" cy="687.7" r="8.7"/>
<circle cx="1679.0" cy="710.0" r="8.7"/>
<circle cx="1688.1" cy="700.4" r="8.7"/>
<circle cx="1697.2" cy="706.2" r="8.7"/>
<circle cx="1706.3" cy="703.9" r="8.7"/>
<circle cx="1715.4" cy="701.2" r="8.7"/>
<circle cx="1724.4" cy="692.7" r="8.7"/>
<circle cx="1733.5" cy="693.8" r="8.7"/>
<circle cx="1742.6" cy="528.2" r="8.7"/>
<circle cx="1751.7" cy="584.8" r="8.7"/>
<circle cx="1760.8" cy="699.2" r="8.7"/>
<circle cx="1769.9" cy="737.4" r="8.7"/>
<circle cx="1778.9" cy="804.8" r="8.7"/>
<circle cx="1788.0" cy="819.8" r="8.7"/>
<circle cx="1797.1" cy="828.3" r="8.7"/>
<circle cx="1806.2" cy="844.8" r="8.7"/>
<circle cx="1815.3" cy="834.0" r="8.7"/>
<circle cx="1824.4" cy="827.5" r="8.7"/>
<circle cx="1833.4" cy="778.2" r="8.7"/>
<circle cx="1842.5" cy="656.1" r="8.7"/>
<circle cx="1851.6" cy="643.0" r="8.7"/>
<circle cx="1860.7" cy="737.4" r="8.7"/>
<circle cx="1869.8" cy="707.3" r="8.7"/>
<circle cx="1878.9" cy="719.3" r="8.7"/>
<circle cx="1888.0" cy="730.0" r="8.7"/>
<circle cx="1897.0" cy="739.3" r="8.7"/>
<circle cx="1906.1" cy="753.9" r="8.7"/>
<circle cx="1915.2" cy="752.4" r="8.7"/>
<circle cx="1924.3" cy="751.6" r="8.7"/>
<circle cx="1933.4" cy="697.7" r="8.7"/>
<circle cx="1942.5" cy="631.4" r="8.7"/>
<circle cx="1951.5" cy="526.3" r="8.7"/>
<circle cx="1960.6" cy="525.5" r="8.7"/>
<circle cx="1969.7" cy="594.8" r="8.7"/>
<circle cx="1978.8" cy="720.8" r="8.7"/>
<circle cx="1987.9" cy="739.7" r="8.7"/>
<circle cx="1997.0" cy="813.2" r="8.7"/>
<circle cx="2006.0" cy="779.0" r="8.7"/>
<circle cx="2015.1" cy="830.6" r="8.7"/>
<circle cx="2024.2" cy="834.8" r="8.7"/>
<circle cx="2033.3" cy="840.6" r="8.7"/>
<circle cx="2042.4" cy="835.6" r="8.7"/>
<circle cx="2051.5" cy="779.7" r="8.7"/>
<circle cx="2060.5" cy="719.6" r="8.7"/>
<circle cx="2069.6" cy="627.2" r="8.7"/>
<circle cx="2078.7" cy="567.1" r="8.7"/>
<circle cx="2087.8" cy="586.0" r="8.7"/>
<circle cx="2096.9" cy="727.7" r="8.7"/>
<circle cx="2106.0" cy="723.1" r="8.7"/>
<circle cx="2115.1" cy="744.7" r="8.7"/>
<circle cx="2124.1" cy="723.5" r="8.7"/>
<circle cx="2133.2" cy="759.7" r="8.7"/>
<circle cx="2142.3" cy="748.1" r="8.7"/>
<circle cx="2151.4" cy="721.2" r="8.7"/>
<circle cx="2160.5" cy="701.2" r="8.7"/>
<circle cx="2169.6" cy="675.3" r="8.7"/>
<circle cx="2178.6" cy="629.5" r="8.7"/>
<circle cx="2187.7" cy="664.6" r="8.7"/>
<circle cx="2196.8" cy="748.9" r="8.7"/>
<circle cx="2205.9" cy="795.1" r="8.7"/>
<circle cx="2215.0" cy="804.8" r="8.7"/>
<circle cx="2224.1" cy="831.4" r="8.7"/>
<circle cx="2233.1" cy="864.5" r="8.7"/>
<circle cx="2242.2" cy="872.6" r="8.7"/>
<circle cx="2251.3" cy="852.5" r="8.7"/>
<circle cx="2260.4" cy="833.7" r="8.7"/>
<circle cx="2269.5" cy="780.5" r="8.7"/>
<circle cx="2278.6" cy="599.8" r="8.7"/>
<circle cx="2287.6" cy="486.6" r="8.7"/>
<circle cx="2296.7" cy="671.9" r="8.7"/>
<circle cx="2305.8" cy="758.9" r="8.7"/>
<circle cx="2314.9" cy="692.7" r="8.7"/>
<circle cx="2324.0" cy="705.4" r="8.7"/>
<circle cx="2333.1" cy="783.2" r="8.7"/>
<circle cx="2342.2" cy="814.0" r="8.7"/>
<circle cx="2351.2" cy="809.0" r="8.7"/>
<circle cx="2360.3" cy="811.7" r="8.7"/>
<circle cx="2369.4" cy="796.7" r="8.7"/>
<circle cx="2378.5" cy="768.2" r="8.7"/>
<circle cx="2387.6" cy="762.4" r="8.7"/>
<circle cx="2396.7" cy="781.7" r="8.7"/>
<circle cx="2405.7" cy="789.7" r="8.7"/>
<circle cx="2414.8" cy="789.7" r="8.7"/>
<circle cx="2423.9" cy="817.5" r="8.7"/>
<circle cx="2433.0" cy="834.0" r="8.7"/>
<circle cx="2442.1" cy="866.4" r="8.7"/>
<circle cx="2451.2" cy="888.4" r="8.7"/>
<circle cx="2460.2" cy="899.1" r="8.7"/>
</g>
<g stroke-linecap="round" stroke-width="7.2" fill="none">
<path d="M1092.5 1097.1 H1149.3" stroke="#4472c4"/>
<path d="M1257.2 1097.1 H1314" stroke="#ed7d31"/>
</g>
<circle cx="1120.4" cy="1096.8" r="8.5" fill="#4472c4"/>
<circle cx="1285.1" cy="1096.8" r="8.5" fill="#ed7d31"/>
<text class="t" x="1157.2" y="1106.4" font-size="29.5" textLength="66.5" lengthAdjust="spacingAndGlyphs">BAM</text>
<text class="t" x="1321.3" y="1106.4" font-size="29.5" textLength="156" lengthAdjust="spacingAndGlyphs">PRANA AIR</text>
</svg></body></html>
